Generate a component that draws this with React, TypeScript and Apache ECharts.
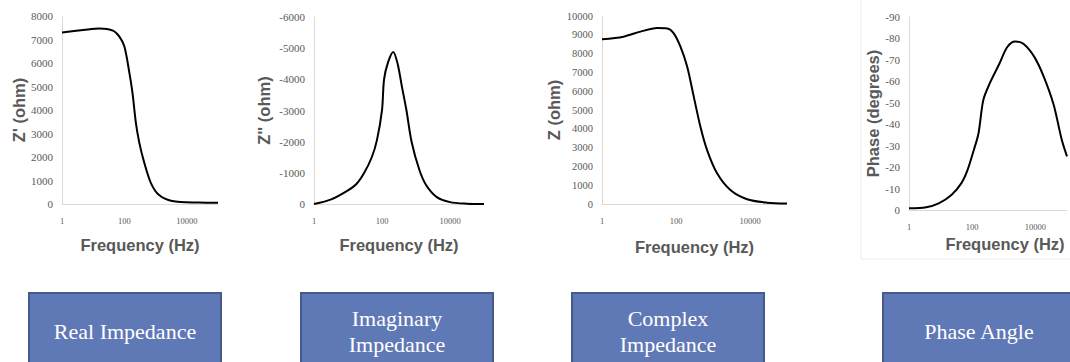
import React, { useEffect, useRef } from "react";
import * as echarts from "echarts";

// Real impedance Z' (ohm)
const realFreq = [1, 4.8, 16, 43, 69, 100, 145, 182, 234, 302, 437, 708, 1290, 3390, 24000, 100000];
const realVals = [7300, 7400, 7470, 7380, 7120, 6700, 5570, 4720, 3440, 2590, 1740, 890, 380, 130, 60, 50];

// Imaginary impedance Z'' (ohm)
const imagFreq = [1, 3.2, 10, 18, 30, 50, 71, 100, 115, 151, 214, 288, 380, 525, 741, 1260, 2000, 4000, 10000, 31600, 100000];
const imagVals = [0, -150, -440, -650, -1000, -1500, -2050, -3010, -4000, -4550, -4880, -4500, -3800, -3000, -2000, -1090, -600, -230, -60, -10, 0];

// Complex impedance |Z| (ohm)
const cplxFreq = [1, 3.8, 11, 31, 58, 87, 132, 200, 302, 457, 692, 1290, 2950, 8320, 28800, 100000];
const cplxVals = [8760, 8900, 9170, 9360, 9340, 9080, 8370, 7310, 5710, 4110, 2870, 1630, 740, 250, 70, 20];

// Phase (degrees)
const phaseFreq = [1, 3.5, 8.7, 22, 45, 71, 112, 158, 224, 355, 724, 1290, 2290, 4170, 9330, 18600, 38000, 67600, 100000];
const phaseVals = [-0.8, -1.3, -3.1, -7, -12.4, -18.6, -27.9, -35.7, -51.2, -58.9, -68.2, -76, -78.6, -77.5, -71.3, -62, -49, -33, -25];

const freqTickLabels = ["1", "100", "10000"];
const yTitles = ["Z' (ohm)", "Z'' (ohm)", "Z (ohm)", "Phase (degrees)"];
const xTitle = "Frequency (Hz)";
const boxLabels = ["Real Impedance", "Imaginary\nImpedance", "Complex\nImpedance", "Phase Angle"];

const GRAY = "#595959";
const AXIS = "#d9d9d9";

export default function App() {
  const ref = useRef<HTMLDivElement>(null);
  useEffect(() => {
    document.body.style.margin = "0";
    const chart = echarts.init(ref.current!, null, { renderer: "svg" });

    const grids = [
      { left: 62, top: 16, width: 156, height: 188 },
      { left: 314, top: 17, width: 170, height: 187 },
      { left: 602, top: 16, width: 185, height: 188 },
      { left: 909, top: 17, width: 165, height: 193 },
    ];
    const yRanges = [
      { min: 0, max: 8000, interval: 1000, inverse: false, gap: 34 },
      { min: -6000, max: 0, interval: 1000, inverse: true, gap: 42 },
      { min: 0, max: 10000, interval: 1000, inverse: false, gap: 39 },
      { min: -90, max: 0, interval: 10, inverse: true, gap: 28 },
    ];
    const xGaps = [32, 32, 34, 18];
    const yLabelSizes = [11, 11, 10.5, 11];

    const xAxes = grids.map((_, i) => ({
      type: "log",
      logBase: 10,
      min: 1,
      max: 100000,
      gridIndex: i,
      axisLine: { onZero: false, lineStyle: { color: AXIS, width: 1 } },
      axisTick: { show: false },
      splitLine: { show: false },
      axisLabel: {
        color: GRAY,
        fontFamily: "Liberation Serif",
        fontSize: 8.5,
        margin: 12,
        formatter: (v: number) => {
          const s = String(Math.round(v));
          return freqTickLabels.includes(s) ? s : "";
        },
      },
      name: xTitle,
      nameLocation: "middle",
      nameGap: xGaps[i],
      nameTextStyle: {
        fontFamily: "Liberation Sans",
        fontWeight: "bold",
        fontSize: 16.5,
        color: GRAY,
        padding: i === 3 ? [0, 0, 0, 34] : 0,
      },
    }));

    const yAxes = grids.map((_, i) => ({
      type: "value",
      gridIndex: i,
      min: yRanges[i].min,
      max: yRanges[i].max,
      interval: yRanges[i].interval,
      inverse: yRanges[i].inverse,
      axisLine: { show: true, onZero: false, lineStyle: { color: AXIS, width: 1 } },
      axisTick: { show: false },
      splitLine: { show: false },
      axisLabel: {
        color: GRAY,
        fontFamily: "Liberation Serif",
        fontSize: yLabelSizes[i],
        margin: 9,
        formatter: (v: number) => String(v),
      },
      name: yTitles[i],
      nameLocation: "middle",
      nameRotate: 90,
      nameGap: yRanges[i].gap,
      nameTextStyle: {
        fontFamily: "Liberation Sans",
        fontWeight: "bold",
        fontSize: 16.5,
        color: GRAY,
      },
    }));

    const pairs = [
      [realFreq, realVals],
      [imagFreq, imagVals],
      [cplxFreq, cplxVals],
      [phaseFreq, phaseVals],
    ];
    const series = pairs.map(([f, v], i) => ({
      type: "line",
      xAxisIndex: i,
      yAxisIndex: i,
      data: f.map((x, k) => [x, v[k]]),
      showSymbol: false,
      smooth: 0.3,
      lineStyle: { color: "#000", width: 2 },
      clip: true,
    }));

    const boxes = [
      { x: 29, w: 192 },
      { x: 301, w: 192 },
      { x: 572, w: 192 },
      { x: 883, w: 192 },
    ];
    const graphic: any[] = [
      {
        type: "rect",
        shape: { x: 861, y: -2, width: 230, height: 261 },
        style: { fill: "none", stroke: "#ececec", lineWidth: 1 },
        z: -1,
      },
    ];
    boxes.forEach((b, i) => {
      graphic.push({
        type: "rect",
        shape: { x: b.x, y: 293, width: b.w, height: 90 },
        style: { fill: "#5f78b6", stroke: "#44598c", lineWidth: 2 },
      });
      graphic.push({
        type: "text",
        x: b.x + b.w / 2,
        y: 331,
        style: {
          text: boxLabels[i],
          fill: "#ffffff",
          font: "22px 'Liberation Serif'",
          lineHeight: 26,
          align: "center",
          verticalAlign: "middle",
        },
        z: 10,
      });
    });

    chart.setOption({
      animation: false,
      backgroundColor: "#ffffff",
      grid: grids.map((g) => ({ ...g, containLabel: false })),
      xAxis: xAxes,
      yAxis: yAxes,
      series,
      graphic,
    });
    return () => chart.dispose();
  }, []);
  return (
    <div
      ref={ref}
      style={{ position: "absolute", left: 0, top: 0, width: 1070, height: 362 }}
    />
  );
}
